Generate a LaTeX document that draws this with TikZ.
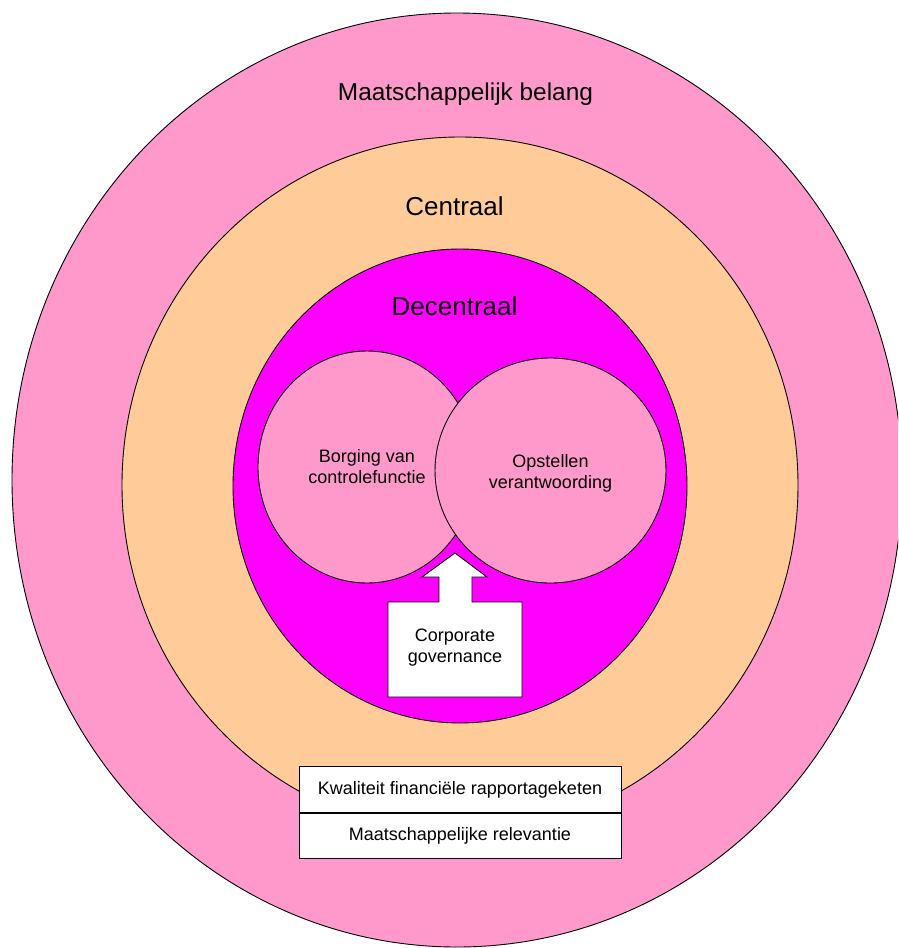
\documentclass[tikz,border=0pt]{standalone}
\usepackage{fontspec}
\setmainfont{Liberation Sans}
\usepackage{tikz}
\usetikzlibrary{positioning}
\usetikzlibrary{calc}
\definecolor{roze}{HTML}{FF99CC}
\definecolor{oranje}{HTML}{FFCC99}
\definecolor{paars}{HTML}{FF00FF}
\tikzset{
	laag/.style={draw=black,line width=0.9pt},
	grotetekst/.style={font=\fontsize{26}{30}\selectfont,anchor=base,inner sep=0pt},
	kleinetekst/.style={font=\fontsize{18}{21}\selectfont,align=center,inner sep=0pt},
	kader/.style={draw=black,fill=white,line width=0.9pt,minimum width=322pt,minimum height=45.5pt,inner sep=0pt,font=\fontsize{18}{21}\selectfont}
}

\begin{document}
\begin{tikzpicture}[x=1pt,y=-1pt]
	\def\breedte{898};
	\def\hoogte{948};
\useasboundingbox (0,0) rectangle (\breedte,\hoogte);
\clip (0,0) rectangle (\breedte,\hoogte); % de buitenste ellips loopt rechts buiten beeld

%Middelpunten van de lagen
\coordinate (M1) at (457,480);
\coordinate (M2) at (460,485);
\coordinate (M3) at (460,486);
%Middelpunten van de cirkels
\coordinate (L) at (367,467);
\coordinate (R) at (550.5,470.5);

%Lagen
\filldraw[laag,fill=roze] (M1) ellipse [x radius=445pt, y radius=467pt];
\filldraw[laag,fill=oranje] (M2) ellipse [x radius=338pt, y radius=348pt];
\filldraw[laag,fill=paars] (M3) ellipse [x radius=227pt, y radius=237pt];

%Cirkels
\filldraw[laag,fill=roze] (L) ellipse [x radius=109pt, y radius=116pt];
\filldraw[laag,fill=roze] (R) ellipse [x radius=115.5pt, y radius=112.5pt];

%Pijl met kader
\coordinate (T) at (455,553);
\filldraw[laag,fill=white] (T) -- (487,577) -- (472,577) -- (472,602) -- (522,602) -- (522,697)
	-- (388,697) -- (388,602) -- (439,602) -- (439,577) -- (422,577) -- cycle;

%Teksten
\node[grotetekst,font=\fontsize{24.4}{28}\selectfont] (belang) at (465.5,100) {Maatschappelijk belang};
\node[grotetekst] (centraal) at (454.5,215) {Centraal};
\node[grotetekst] (decentraal) at (454.5,315) {Decentraal};

\node[kleinetekst] (borging) at (L) {Borging van\\controlefunctie};
\node[kleinetekst] (opstellen) at ($(R)+(0,2.5)$) {Opstellen\\verantwoording};
\node[kleinetekst] (corpgov) at (455,648) {Corporate\\governance};

%Kaders onderaan
\node[kader] (kwaliteit) at (460,789.5) {Kwaliteit financiële rapportageketen};
\node[kader,below=0pt of kwaliteit] (relevantie) {Maatschappelijke relevantie};

\end{tikzpicture}
\end{document}
